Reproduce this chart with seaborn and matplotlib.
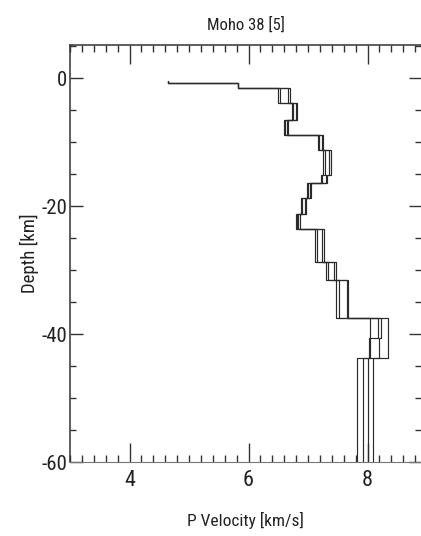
import numpy as np
import pandas as pd
import matplotlib
matplotlib.use("Agg")
import matplotlib.pyplot as plt
import seaborn as sns
from matplotlib import font_manager
from matplotlib.ticker import MultipleLocator, FixedLocator

# ---- data ----
layer_tops = [0.5, 0.8, 1.6, 3.9, 6.6, 8.9, 11.2, 15.2, 16.3, 18.8, 21.3, 23.6, 28.8, 31.6, 37.5, 40.6, 43.8]
bottom_depth = 60.0
model_1 = [4.64, 5.83, 6.50, 6.73, 6.59, 7.17, 7.25, 7.22, 6.98, 6.88, 6.79, 7.12, 7.30, 7.47, 8.05, 8.02, 7.83]
model_2 = [4.64, 5.83, 6.53, 6.75, 6.61, 7.19, 7.28, 7.24, 7.00, 6.90, 6.81, 7.15, 7.33, 7.52, 8.17, 8.05, 7.93]
model_3 = [4.64, 5.83, 6.67, 6.80, 6.64, 7.23, 7.35, 7.30, 7.03, 6.95, 6.84, 7.24, 7.44, 7.65, 8.22, 8.20, 8.00]
model_4 = [4.64, 5.83, 6.70, 6.82, 6.66, 7.25, 7.38, 7.32, 7.05, 6.97, 6.86, 7.27, 7.47, 7.68, 8.35, 8.35, 8.10]
x_ticks = [4, 6, 8]
x_ticklabels = ["4", "6", "8"]
y_ticks = [0, -20, -40, -60]
y_ticklabels = ["0", "-20", "-40", "-60"]
title = "Moho 38 [5]"
xlabel = "P Velocity [km/s]"
ylabel = "Depth [km]"

models = {"m1": model_1, "m2": model_2, "m3": model_3, "m4": model_4}
bounds = layer_tops + [bottom_depth]
rows = []
for name, vel in models.items():
    order = 0
    for i, v in enumerate(vel):
        for d in (bounds[i], bounds[i + 1]):
            rows.append({"model": name, "order": order, "velocity": v, "depth": -d})
            order += 1
df = pd.DataFrame(rows)

sns.set_style("ticks")
# pick a condensed face if the system has one
names = {f.name for f in font_manager.fontManager.ttflist}
cond = [n for n in ["Liberation Sans Narrow", "DejaVu Sans Condensed", "Roboto Condensed",
                    "Open Sans Condensed", "Noto Sans Condensed"] if n in names]
fam = cond + ["DejaVu Sans"]
plt.rcParams["font.family"] = fam
plt.rcParams["font.stretch"] = "condensed"

fig = plt.figure(figsize=(4.21, 5.36), dpi=100)
W, H = 421, 536
ax = fig.add_axes([70 / W, 1 - 462 / H, (421 - 70) / W, (462 - 45) / H])

sns.lineplot(data=df, x="velocity", y="depth", units="model", estimator=None,
             sort=False, color="#2a2a2a", linewidth=0.85, ax=ax, legend=False)

ax.set_xlim(3.0, 3.0 + 351 / 59.5)
ax.set_ylim(-60, 5.2)

ax.xaxis.set_major_locator(FixedLocator(x_ticks))
ax.set_xticklabels(x_ticklabels)
ax.xaxis.set_minor_locator(MultipleLocator(0.2))
ax.yaxis.set_major_locator(FixedLocator(y_ticks))
ax.set_yticklabels(y_ticklabels)
ax.yaxis.set_minor_locator(MultipleLocator(5))

ax.tick_params(axis="x", which="both", direction="in", top=True, bottom=True,
               colors="#333333", labelcolor="#222222", labelsize=16, pad=6)
ax.tick_params(axis="x", which="major", length=14, width=1.0)
ax.tick_params(axis="x", which="minor", length=5, width=1.0)
ax.tick_params(axis="y", which="both", direction="in", left=True, right=True,
               colors="#333333", labelcolor="#222222", labelsize=15, pad=2)
ax.tick_params(axis="y", which="major", length=9, width=1.0)
ax.tick_params(axis="y", which="minor", length=4, width=1.0)

for s in ["left", "top"]:
    ax.spines[s].set_color("#333333")
    ax.spines[s].set_linewidth(1.1)
ax.spines["bottom"].set_color("#777777")
ax.spines["bottom"].set_linewidth(0.8)
ax.spines["right"].set_visible(False)

ax.set_xlabel(xlabel, fontsize=12.5, color="#222222", labelpad=15)
ax.set_ylabel(ylabel, fontsize=13.5, color="#222222", labelpad=2)
ax.set_title(title, fontsize=12, color="#222222", pad=11)

fig.savefig("out.png", dpi=100)
